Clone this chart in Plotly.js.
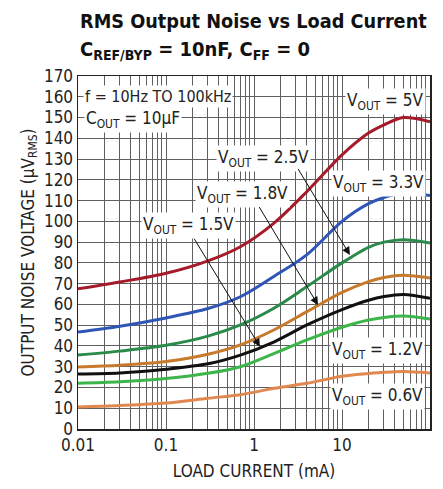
<!DOCTYPE html>
<html>
<head>
<meta charset="utf-8">
<script src="https://cdn.plot.ly/plotly-3.0.1.min.js"></script>
<style>html,body{margin:0;padding:0;background:#fff;}#chart{width:443px;height:489px;}</style>
</head>
<body>
<div id="chart"></div>
<script>
// ---- data ----
var loadCurrent = [0.01, 0.03, 0.1, 0.3, 0.7, 1.7, 4, 10, 20, 30, 50, 100];
var v5p0 = [67.5, 70.8, 75.0, 81.0, 87.8, 99.3, 114.4, 132.0, 142.5, 146.5, 150.0, 148.0];
var v3p3 = [46.7, 49.5, 53.5, 58.0, 63.7, 73.6, 84.0, 100.0, 108.5, 111.5, 113.8, 112.4];
var v2p5 = [35.6, 37.5, 40.3, 44.7, 50.1, 58.3, 68.6, 80.0, 87.5, 90.0, 91.2, 89.6];
var v1p8 = [29.9, 30.7, 32.5, 36.0, 40.5, 47.8, 56.5, 65.8, 71.0, 73.0, 74.0, 72.7];
var v1p5 = [26.5, 27.0, 28.8, 31.4, 35.6, 42.0, 50.1, 57.5, 62.0, 63.8, 64.8, 63.0];
var v1p2 = [22.0, 22.7, 24.3, 26.8, 30.0, 36.4, 42.9, 49.0, 52.5, 53.7, 54.4, 53.0];
var v0p6 = [10.6, 11.3, 12.5, 14.8, 16.5, 19.6, 22.0, 25.4, 26.7, 27.3, 27.7, 27.0];

var seriesNames = ["5V", "3.3V", "2.5V", "1.8V", "1.5V", "1.2V", "0.6V"];
var seriesValues = [v5p0, v3p3, v2p5, v1p8, v1p5, v1p2, v0p6];
var seriesColors = ["#a61b29", "#2f55b5", "#2a8a4a", "#c7792c", "#111111", "#3cb64a", "#e0884f"];

var yTicks = [0,10,20,30,40,50,60,70,80,90,100,110,120,130,140,150,160,170];
var xTickVals = [0.01, 0.1, 1, 10, 100];
var xTickText = ["0.01", "0.1", "1", "10", "100"];
var xMinorVals = [0.02,0.03,0.04,0.05,0.06,0.07,0.08,0.09,
                  0.2,0.3,0.4,0.5,0.6,0.7,0.8,0.9,
                  2,3,4,5,6,7,8,9,
                  20,30,40,50,60,70,80,90];

// arrow tips (load current mA, noise µV) for the 2.5V, 1.8V and 1.5V callouts
var arrowTipCurrent = [12.3, 5.34, 1.17];
var arrowTipNoise = [83.8, 59.7, 39.6];

// ---- styling ----
var FONT = "DejaVu Sans Condensed, Liberation Sans Narrow, sans-serif";
var TXT = "#222";

var traces = seriesValues.map(function(vals, i){
  return {
    x: loadCurrent, y: vals, type: "scatter", mode: "lines",
    name: "VOUT = " + seriesNames[i],
    line: {color: seriesColors[i], width: 3, shape: "spline", smoothing: 0.9},
    hoverinfo: "skip"
  };
});

// paper helpers (plot area: 352 x 353 px, origin at 78,429)
function px(p){ return (p - 78) / 352; }
function py(p){ return (429 - p) / 353; }

function lab(text, x, y, xanchor, size){
  return {xref: "paper", yref: "paper", x: x, y: y, text: text, showarrow: false,
          xanchor: xanchor || "center", yanchor: "middle",
          font: {family: FONT, size: size || 17, color: TXT}, bgcolor: "#fff", borderpad: 1};
}
function arrow(xTip, yTip, ax, ay){
  // annotation x on a log axis is given in log10 units
  return {x: Math.log10(xTip), y: yTip, xref: "x", yref: "y", text: " ", showarrow: true,
          font: {size: 1, color: "rgba(0,0,0,0)"},
          ax: ax, ay: ay, arrowhead: 2, arrowsize: 1.6, arrowwidth: 1, arrowcolor: "#111",
          standoff: 0, startstandoff: 0};
}

var annotations = [
  {xref: "paper", yref: "paper", x: 0, y: py(21), xanchor: "left", yanchor: "middle", showarrow: false,
   text: "<b>RMS Output Noise vs Load Current</b>", font: {family: FONT, size: 19.7, color: "#111"}},
  {xref: "paper", yref: "paper", x: 0, y: py(50), xanchor: "left", yanchor: "middle", showarrow: false,
   text: "<b>C<sub>REF/BYP</sub> = 10nF, C<sub>FF</sub> = 0</b>", font: {family: FONT, size: 20, color: "#111"}},
  lab("f = 10Hz TO 100kHz", px(83), py(96), "left", 16),
  lab("C<sub>OUT</sub> = 10µF", px(84), py(119), "left", 17),
  lab("V<sub>OUT</sub> = 5V", px(385), py(101)),
  lab("V<sub>OUT</sub> = 2.5V", px(263), py(158)),
  lab("V<sub>OUT</sub> = 3.3V", px(378), py(183)),
  lab("V<sub>OUT</sub> = 1.8V", px(242), py(194)),
  lab("V<sub>OUT</sub> = 1.5V", px(188), py(226)),
  lab("V<sub>OUT</sub> = 1.2V", px(377), py(350)),
  lab("V<sub>OUT</sub> = 0.6V", px(377), py(396)),
  arrow(arrowTipCurrent[0], arrowTipNoise[0], -53, -88),
  arrow(arrowTipCurrent[1], arrowTipNoise[1], -60, -100),
  arrow(arrowTipCurrent[2], arrowTipNoise[2], -67, -110)
];

var layout = {
  width: 443, height: 489,
  margin: {l: 78, r: 13, t: 76, b: 60, pad: 0},
  paper_bgcolor: "#fff", plot_bgcolor: "#fff",
  showlegend: false,
  font: {family: FONT, size: 16, color: TXT},
  xaxis: {
    type: "log", range: [-2, 2],
    tickmode: "array", tickvals: xTickVals, ticktext: xTickText, ticks: "",
    showgrid: true, gridcolor: "#606060", gridwidth: 1,
    minor: {tickmode: "array", tickvals: xMinorVals, showgrid: true, gridcolor: "#606060", gridwidth: 1, ticks: ""},
    showline: true, linecolor: "#222", linewidth: 1.5, mirror: true,
    zeroline: false, tickfont: {family: FONT, size: 17, color: TXT},
    title: {text: "LOAD CURRENT (mA)", font: {family: FONT, size: 17, color: TXT}, standoff: 11}
  },
  yaxis: {
    range: [0, 170], tickmode: "array", tickvals: yTicks, ticks: "",
    showgrid: true, gridcolor: "#606060", gridwidth: 1,
    showline: true, linecolor: "#222", linewidth: 1.5, mirror: true,
    zeroline: false, tickfont: {family: FONT, size: 17, color: TXT},
    title: {text: "OUTPUT NOISE VOLTAGE (µV<sub>RMS</sub>)", font: {family: FONT, size: 17, color: TXT}, standoff: 5}
  },
  shapes: [
    {type: "rect", xref: "paper", yref: "paper", x0: 0.003, x1: px(238), y0: py(132), y1: py(80),
     fillcolor: "#fff", line: {width: 0}, layer: "between"}
  ],
  annotations: annotations
};

Plotly.newPlot("chart", traces, layout, {displayModeBar: false, staticPlot: true});
</script>
</body>
</html>
